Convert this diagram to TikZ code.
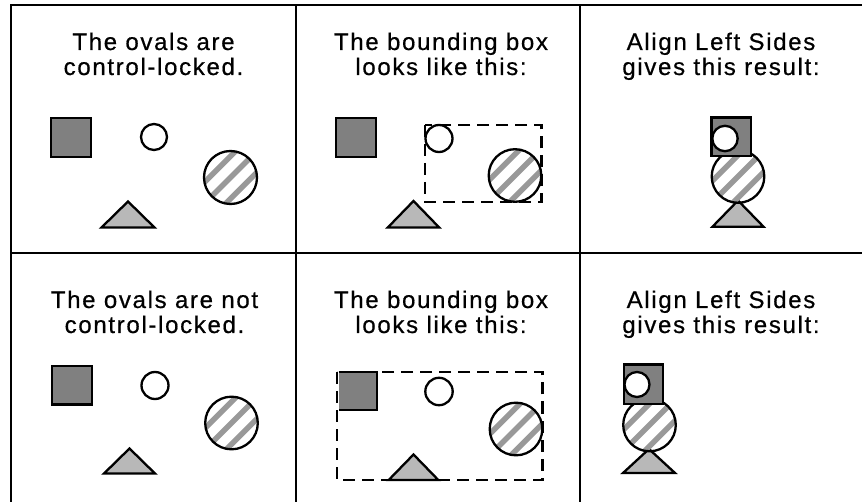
\documentclass[tikz,border=0pt]{standalone}
\usepackage{fontspec}
\setmainfont{Liberation Sans}[LetterSpace=7,FakeBold=0.6]
\definecolor{sqfill}{gray}{0.5}
\definecolor{trifill}{gray}{0.72}
\definecolor{stripecol}{gray}{0.6}
\newcommand\hatchdisc[3]{%
  \begin{scope}
    \clip (#1,#2) circle (#3pt);
    \foreach \o in {-15,0,15}{
      \draw[stripe] (#1+\o*0.7071-40,#2+\o*0.7071+40) -- (#1+\o*0.7071+40,#2+\o*0.7071-40);}
  \end{scope}
  \draw[shp] (#1,#2) circle (#3pt);}
\newcommand\tri[4]{% apex x, apex y, half width, base y
  \filldraw[shp, fill=trifill] (#1,#2) -- (#1+#3,#4) -- (#1-#3,#4) -- cycle;}
\begin{document}
\begin{tikzpicture}[x=1pt,y=-1pt,
  frame/.style={line width=2.4pt, black},
  shp/.style={line width=2.3pt, black},
  stripe/.style={line width=5.5pt, stripecol},
  bbox/.style={line width=2.2pt, black, dash pattern=on 12pt off 7pt},
  lbl/.style={font=\fontsize{24}{25}\selectfont, inner sep=0pt, anchor=base}]
\useasboundingbox (0,0) rectangle (862,502);
% frame
\draw[frame] (11,502) -- (11,5) -- (862,5);
\draw[frame] (11,253) -- (862,253);
\draw[frame] (296,5) -- (296,502);
\draw[frame] (580,5) -- (580,502);
% texts
\node[lbl] (t1a) at (153.5,50) {The ovals are};
\node[lbl] (t1b) at (153.5,75) {control-locked.};
\node[lbl] (t2a) at (441,50) {The bounding box};
\node[lbl] (t2b) at (441,75) {looks like this:};
\node[lbl] (t3a) at (721,50) {Align Left Sides};
\node[lbl] (t3b) at (721,75) {gives this result:};
\node[lbl] (t4a) at (154.5,308) {The ovals are not};
\node[lbl] (t4b) at (154.5,333) {control-locked.};
\node[lbl] (t5a) at (441,308) {The bounding box};
\node[lbl] (t5b) at (441,333) {looks like this:};
\node[lbl] (t6a) at (721,308) {Align Left Sides};
\node[lbl] (t6b) at (721,333) {gives this result:};
% panel 1
\filldraw[shp, fill=sqfill] (51,118) rectangle (91,157);
\draw[shp] (154,137) circle (13pt);
\hatchdisc{230.5}{177.5}{26.5}
\tri{128}{201.5}{26.5}{227.5}
% panel 2
\filldraw[shp, fill=sqfill] (336,118) rectangle (376,157);
\draw[shp] (439,138.5) circle (13.5pt);
\hatchdisc{515}{175.5}{26.3}
\tri{413.5}{201}{25.7}{227.5}
\draw[bbox] (425,125) rectangle (541.5,202);
% panel 3
\tri{738}{200.5}{25.5}{226.7}
\hatchdisc{738}{176.5}{26.3}
\filldraw[shp, fill=sqfill] (711.5,117.5) rectangle (751,156);
\filldraw[shp, fill=white] (725,138.5) circle (12.7pt);
% panel 4
\filldraw[shp, fill=sqfill] (52,366) rectangle (92,404.5);
\draw[shp] (155,385.5) circle (13.5pt);
\hatchdisc{231.5}{423}{26.3}
\tri{129.5}{448.5}{25.5}{473.5}
% panel 5
\fill[sqfill] (338.5,372) rectangle (377,410);
\draw[shp] (338.5,372) -- (377,372) -- (377,410) -- (338.5,410);
\draw[shp] (439,391.5) circle (13.7pt);
\hatchdisc{516}{429}{26.3}
\tri{413.5}{454.5}{24.8}{480}
\draw[bbox] (337,372) rectangle (542.5,480);
% panel 6
\tri{649}{449}{26}{473}
\hatchdisc{649.5}{425}{26.3}
\filldraw[shp, fill=sqfill] (624,364.5) rectangle (663,404);
\filldraw[shp, fill=white] (637,384.5) circle (12.5pt);
\end{tikzpicture}
\end{document}
